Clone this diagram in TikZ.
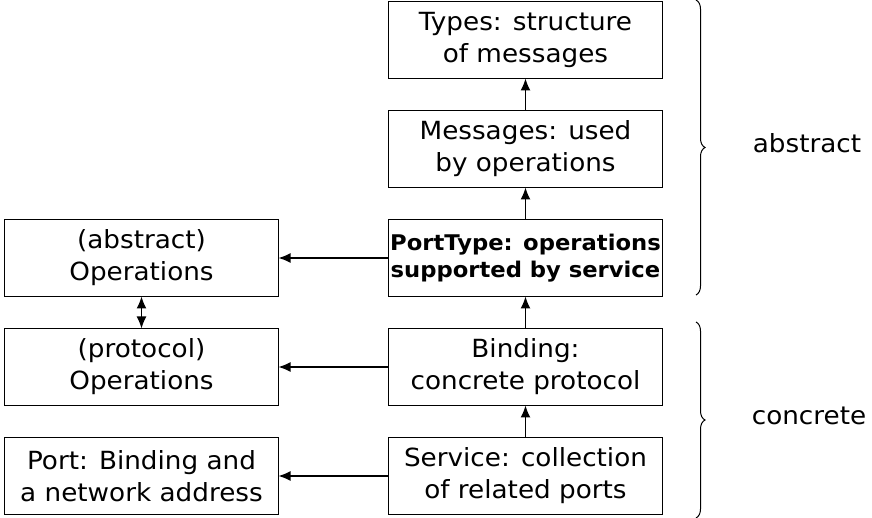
\documentclass[tikz,border=0pt]{standalone}
\usepackage{fontspec}
\setmainfont[FakeStretch=1.05]{DejaVu Sans}
\usetikzlibrary{positioning}
\usetikzlibrary{arrows.meta,decorations.pathreplacing}
\tikzstyle{line} = [draw, line width=1.4pt, color=black, -{Latex[length=12pt,width=10pt]}]

\begin{document}
\begin{tikzpicture}[x=1pt,y=1pt,node distance=32pt,outer sep=0pt,
wbox/.style={
  draw=black,
  line width=1.6pt,
  minimum width=274pt,
  minimum height=77pt,
  inner sep=0pt,
  align=center,
  font={\fontsize{25}{32}\selectfont}},
boldbox/.style={wbox,font={\fontsize{21.6}{27}\selectfont\bfseries}},
]
\useasboundingbox (0,0) rectangle (872,518);
\node[wbox] (serv) at (525.5,42) {Service: collection\\of related ports};
\node[wbox, above=of serv] (bind) {Binding:\\concrete protocol};
\node[boldbox, above=of bind] (ptype) {PortType: operations\\supported by service};
\node[wbox, above=of ptype] (msg) {Messages: used\\by operations};
\node[wbox, above=of msg] (types) {Types: structure\\of messages};
\node[wbox, left=110pt of serv] (port) {Port: Binding and\\a network address};
\node[wbox, left=110pt of bind] (protop) {(protocol)\\Operations};
\node[wbox, left=110pt of ptype] (absop) {(abstract)\\Operations};

\path [line] (serv) -- (bind);
\path [line] (bind) -- (ptype);
\path [line] (ptype) -- (msg);
\path [line] (msg) -- (types);
\path [line] (serv) -- (port);
\path [line] (bind) -- (protop);
\path [line] (ptype) -- (absop);
\path [line, {Latex[length=12pt,width=10pt]}-{Latex[length=12pt,width=10pt]}] (absop) -- (protop);

% braces
\draw[line width=1pt, decorate, decoration={brace, amplitude=9pt}] (696,518) -- (696,223);
\draw[line width=1pt, decorate, decoration={brace, amplitude=9pt}] (696,196) -- (696,0);
\node[font={\fontsize{25}{32}\selectfont}] (abs) at (807,375) {abstract};
\node[font={\fontsize{25}{32}\selectfont}] (conc) at (809,102) {concrete};
\end{tikzpicture}
\end{document}
